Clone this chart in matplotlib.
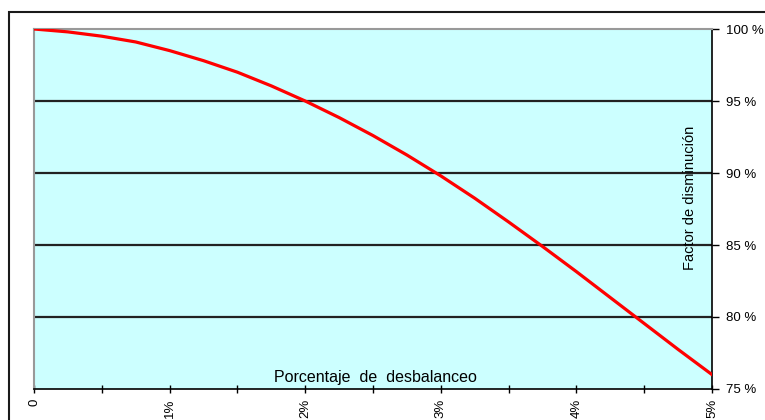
import matplotlib
matplotlib.use("Agg")
import matplotlib.pyplot as plt
from matplotlib.patches import Rectangle
from matplotlib.ticker import FixedLocator, MultipleLocator

plt.rcParams['font.family'] = ['Liberation Sans', 'DejaVu Sans']

# Voltage unbalance (%) vs. derating factor (%)
unbalance = [0, 0.25, 0.5, 0.75, 1.0, 1.25, 1.5, 1.75, 2.0, 2.25, 2.5,
             2.75, 3.0, 3.25, 3.5, 3.75, 4.0, 4.25, 4.5, 4.75, 5.0]
factor = [100, 99.8, 99.5, 99.1, 98.5, 97.8, 97.0, 96.05, 95.0, 93.85, 92.6,
          91.25, 89.8, 88.25, 86.6, 84.9, 83.15, 81.35, 79.55, 77.75, 76.0]

x_ticks = [0, 1, 2, 3, 4, 5]
x_tick_labels = ["0", "1%", "2%", "3%", "4%", "5%"]
y_ticks = [75, 80, 85, 90, 95, 100]
y_tick_labels = ["75 %", "80 %", "85 %", "90 %", "95 %", "100 %"]

W, H = 765, 420
fig = plt.figure(figsize=(W / 100, H / 100), dpi=100)
fig.patch.set_facecolor("white")

# outer chart frame
fig.patches.append(Rectangle((9 / W, -0.5), 2.0, (H - 12) / H + 0.5,
                             transform=fig.transFigure, fill=False,
                             edgecolor="#1a1a1a", linewidth=1.5))

ax = fig.add_axes([34 / W, (H - 389) / H, (712 - 34) / W, (389 - 29) / H])
ax.set_facecolor("#CCFFFF")
ax.set_xlim(0, 5)
ax.set_ylim(75, 100)

for yv in y_ticks[1:-1]:
    ax.axhline(yv, color="#222222", linewidth=1.6, zorder=1)

ax.plot(unbalance, factor, color="#FF0000", linewidth=2.3, zorder=3,
        solid_joinstyle="round")

for side in ("top", "left"):
    ax.spines[side].set_color("#999999")
    ax.spines[side].set_linewidth(1.5)
for side in ("right", "bottom"):
    ax.spines[side].set_color("black")
    ax.spines[side].set_linewidth(1.2)

ax.yaxis.tick_right()
ax.yaxis.set_major_locator(FixedLocator(y_ticks))
ax.set_yticklabels(y_tick_labels)
ax.tick_params(axis="y", direction="out", length=5, width=1, pad=5,
               labelsize=9.5, colors="black")

ax.xaxis.set_major_locator(FixedLocator(x_ticks))
ax.xaxis.set_minor_locator(MultipleLocator(0.5))
ax.set_xticklabels(x_tick_labels, rotation=90, va="top")
ax.tick_params(axis="x", which="both", direction="inout", length=6, width=1,
               pad=4, labelsize=9.5, colors="black")

ax.text(2.52, 75.3, "Porcentaje  de  desbalanceo", ha="center", va="bottom",
        fontsize=11.5, color="black", zorder=4)
ax.text(4.84, 88.3, "Factor de disminución", rotation=90, ha="center",
        va="center", fontsize=10.5, color="black", zorder=4)

fig.savefig("out.png", dpi=100, facecolor="white")
